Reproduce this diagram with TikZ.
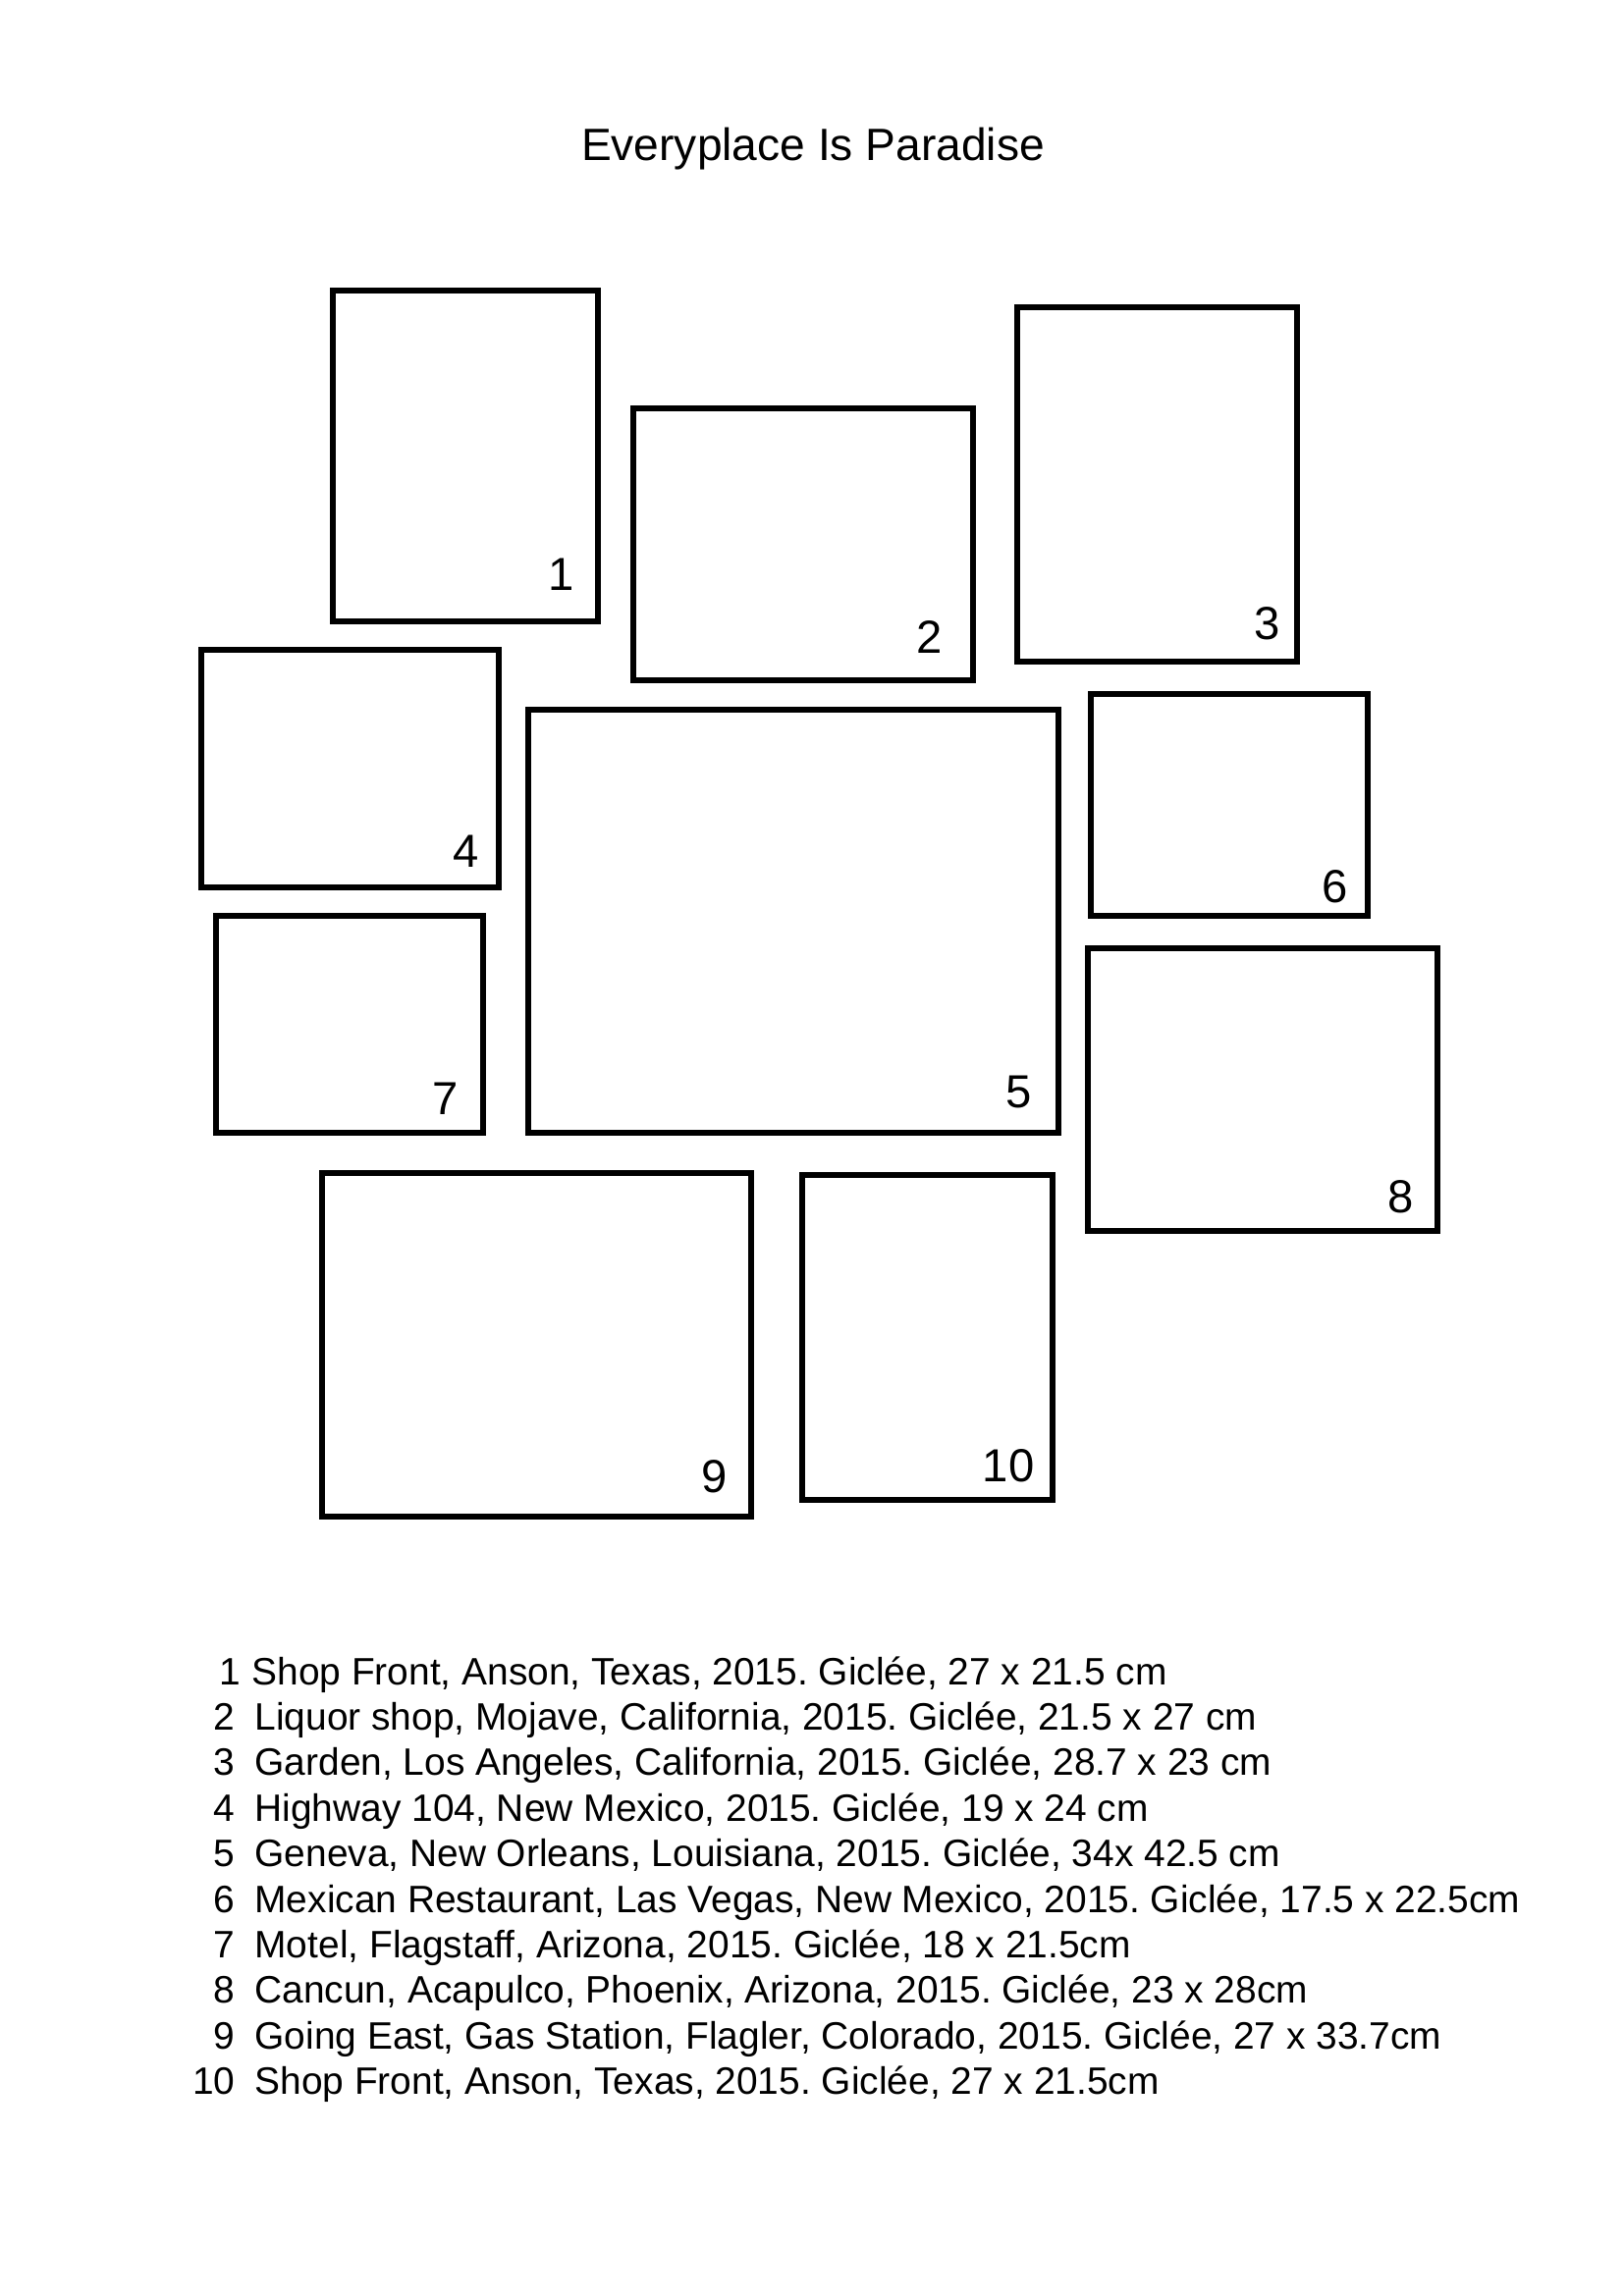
\documentclass[tikz,border=0pt]{standalone}
\usepackage{fontspec}
\setmainfont{Liberation Sans}
\usetikzlibrary{positioning}
\frenchspacing

% one pixel of the A4 page
\newcommand{\px}{0.3599pt}

\begin{document}
\begin{tikzpicture}[
          x=\px, y=-\px,
          frame/.style={draw, line width=2.15pt, inner sep=0pt, outer sep=0pt},
          num/.style={inner sep=0pt, font=\fontsize{17}{20}\selectfont},
          item/.style={inner sep=0pt, font=\fontsize{14}{16.8}\selectfont}
        ]
        \useasboundingbox[fill=white] (0,0) rectangle (1654,2339);

        \node[inner sep=0pt, anchor=base, font=\fontsize{16.6}{20}\selectfont]
          (title) at (828,163) {Everyplace Is Paradise};

        % frames: name / left / top / right / bottom / label offsets
        \foreach \n/\xa/\ya/\xb/\yb/\dx/\dy in {
            1/336/293/612/636/27/35,
            2/642/413/994/696/34/31,
            3/1033/310/1324/677/20/26,
            4/202/659/511/907/23/24,
            5/535/720/1081/1157/30/29,
            6/1108/704/1396/936/23/17,
            7/217/930/495/1157/28/22,
            8/1105/963/1467/1257/27/22,
            9/325/1192/768/1548/27/28,
            10/814/1194/1075/1531/21/22}
        {
          \node[frame, minimum width={(\xb-\xa-6)*\px},
                minimum height={(\yb-\ya-6)*\px}]
            (f\n) at ({(\xa+\xb)/2},{(\ya+\yb)/2}) {};
          \node[num, anchor=base east] (n\n)
            at ([shift={({-\dx+3},{-\dy+3})}]f\n.south east) {\n};
        }

        % list of works
        \foreach \i/\nx/\tx/\t in {
            1/246/256/{Shop Front, Anson, Texas, 2015. Giclée, 27 x 21.5 cm},
            2/240/259/{Liquor shop, Mojave, California, 2015. Giclée, 21.5 x 27 cm},
            3/240/259/{Garden, Los Angeles, California, 2015. Giclée, 28.7 x 23 cm},
            4/240/259/{Highway 104, New Mexico, 2015. Giclée, 19 x 24 cm},
            5/240/259/{Geneva, New Orleans, Louisiana, 2015. Giclée, 34x 42.5 cm},
            6/240/259/{Mexican Restaurant, Las Vegas, New Mexico, 2015. Giclée, 17.5 x 22.5cm},
            7/240/259/{Motel, Flagstaff, Arizona, 2015. Giclée, 18 x 21.5cm},
            8/240/259/{Cancun, Acapulco, Phoenix, Arizona, 2015. Giclée, 23 x 28cm},
            9/240/259/{Going East, Gas Station, Flagler, Colorado, 2015. Giclée, 27 x 33.7cm},
            10/240/259/{Shop Front, Anson, Texas, 2015. Giclée, 27 x 21.5cm}}
        {
          \node[item, anchor=base east] (k\i) at (\nx,{1716+(\i-1)*46.4}) {\i};
          \node[item, anchor=base west] (w\i) at (\tx,{1716+(\i-1)*46.4}) {\t};
        }
      \end{tikzpicture}
\end{document}
